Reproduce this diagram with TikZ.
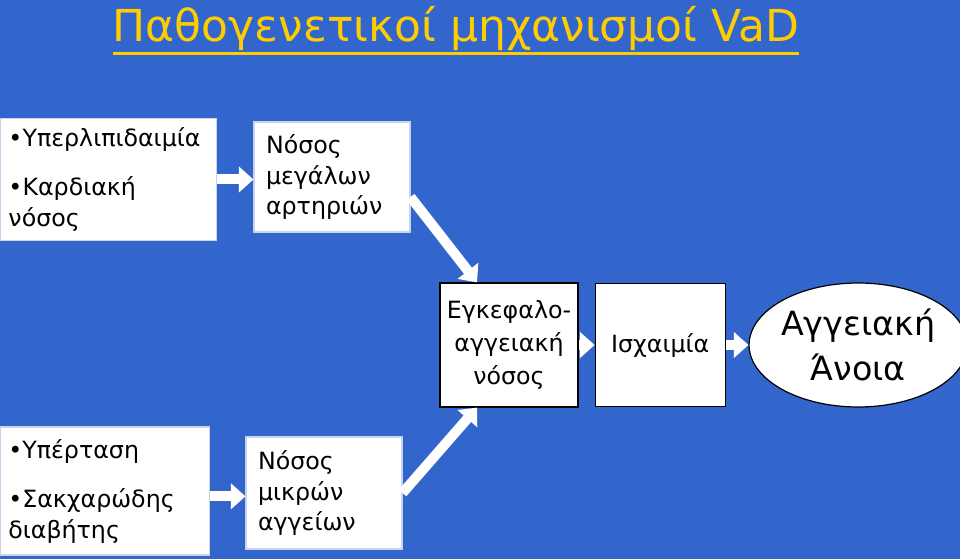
\documentclass[tikz,border=0pt]{standalone}
\usepackage{fontspec}
\setmainfont{DejaVu Sans}
\usepackage{xcolor}
\definecolor{slideblue}{RGB}{51, 102, 204}
\definecolor{titleyellow}{RGB}{255, 204, 0}
\definecolor{paleedge}{RGB}{200, 212, 235}
\usepackage{tikz}
\usetikzlibrary{positioning, arrows.meta, shapes.geometric}
\tikzset{
    titletext/.style={
        text=titleyellow,
        inner sep=0pt,
        font=\fontsize{33}{40}\selectfont
    },
    riskbox/.style={
        draw=paleedge,
        fill=white,
        line width=0.8pt,
        align=left,
        inner xsep=6pt,
        inner ysep=0pt,
        font=\fontsize{17.8}{23}\selectfont
    },
    vesselbox/.style={
        riskbox,
        inner xsep=9pt
    },
    stagebox/.style={
        draw=black,
        fill=white,
        line width=0.9pt,
        inner sep=0pt,
        align=center,
        font=\fontsize{17.8}{25}\selectfont
    },
    outcome/.style={
        ellipse,
        draw=black,
        fill=white,
        line width=0.9pt,
        inner sep=0pt,
        align=center,
        font=\fontsize{25}{34}\selectfont
    },
    flowarrow/.style={
        -{Triangle[length=11pt,width=19pt]},
        draw=white,
        line width=7.5pt
    }
}

\begin{document}
\begin{tikzpicture}[x=0.75pt, y=-0.75pt]

% ---------------------------------------------------------
% Background
% ---------------------------------------------------------
\fill[slideblue] (0,0) rectangle (960,559);
\useasboundingbox (0,0) rectangle (960,559);

% Title
\node[titletext, anchor=base] (title) at (456,42) {Παθογενετικοί μηχανισμοί VaD};
\draw[titleyellow, line width=2.5pt] ([yshift=-8.5pt]title.base west) -- ([yshift=-8.5pt]title.base east);

% ---------------------------------------------------------
% Nodes
% ---------------------------------------------------------

% Top row: risk factors and large artery disease
\node[riskbox, text width=150pt, minimum height=92pt] (hyperlip) at (108.5,179.5) {%
    •Υπερλιπιδαιμία\\[14pt]
    •Καρδιακή\\
    νόσος
};
\node[vesselbox, text width=99pt, minimum height=82.5pt] (bigart) at (332,177) {%
    Νόσος\\
    μεγάλων\\
    αρτηριών
};

% Middle row: stroke, ischaemia, dementia
\node[stagebox, minimum width=103.5pt, minimum height=93pt] (cerebro) at (509,345) {%
    Εγκεφαλο-\\
    αγγειακή\\
    νόσος
};
\node[stagebox, minimum width=97.5pt, minimum height=92pt, right=12pt of cerebro] (ischaemia) {Ισχαιμία};
\node[outcome, minimum width=155pt, minimum height=93pt, right=17pt of ischaemia] (dementia) {%
    Αγγειακή\\
    Άνοια
};

% Bottom row: risk factors and small vessel disease
\node[riskbox, text width=145pt, minimum height=96pt] (hypert) at (105,491) {%
    •Υπέρταση\\[14pt]
    •Σακχαρώδης\\
    διαβήτης
};
\node[vesselbox, text width=99pt, minimum height=84pt] (smallart) at (324,493) {%
    Νόσος\\
    μικρών\\
    αγγείων
};

% ---------------------------------------------------------
% Arrows
% ---------------------------------------------------------

% risk factors -> vessel disease
\draw[flowarrow] (hyperlip.east) -- (hyperlip.east -| bigart.west);
\draw[flowarrow] ([yshift=-4pt]hypert.east) -- ([yshift=-4pt]hypert.east -| smallart.west);

% vessel disease -> cerebrovascular disease
\draw[flowarrow] ([yshift=-15pt]bigart.east) -- ([xshift=-24pt]cerebro.north);
\draw[flowarrow] (smallart.east) -- ([xshift=-24pt]cerebro.south);

% chain to dementia
\draw[flowarrow] (cerebro.east) -- (ischaemia.west);
\draw[flowarrow] (ischaemia.east) -- (dementia.west);

\end{tikzpicture}
\end{document}
